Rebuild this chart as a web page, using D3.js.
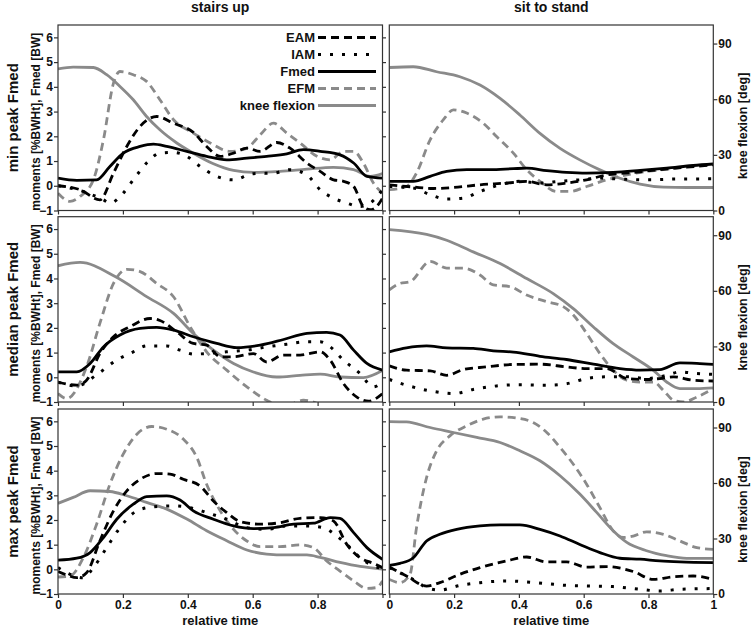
<!DOCTYPE html>
<html><head><meta charset="utf-8">
<script src="https://cdn.jsdelivr.net/npm/d3@7"></script>
<style>
body{margin:0;background:#fff}
svg{display:block}
text{font-family:"Liberation Sans",Arial,Helvetica,sans-serif;font-weight:bold;fill:#111}
</style>
</head><body>
<svg id="c" width="752" height="628"></svg>
<script>
// ---------- tick values / labels ----------
const xTicks = [0, 0.2, 0.4, 0.6, 0.8, 1];
const leftTicks = [-1, 0, 1, 2, 3, 4, 5, 6];
const rightTicks = [0, 30, 60, 90];
const columnTitles = ["stairs up", "sit to stand"];
const rowTitles = ["min peak Fmed", "median peak Fmed", "max peak Fmed"];
const leftAxisLabel = "moments [%BWHt], Fmed [BW]";
const rightAxisLabel = "knee flexion [deg]";
const xAxisLabel = "relative time";
const seriesNames = ["EAM", "IAM", "Fmed", "EFM", "knee flexion"];

// ---------- data: [relative time, value]; moments/Fmed on left axis, knee flexion in deg ----------
// stairs up, min peak Fmed
const suMinEAM = [[0,0],[0.068,-0.16],[0.129,-0.57],[0.171,0.51],[0.212,1.59],[0.253,2.4],[0.304,2.8],[0.356,2.53],[0.417,2.16],[0.458,1.59],[0.5,1.19],[0.541,1.32],[0.582,1.52],[0.623,1.39],[0.674,1.75],[0.715,1.52],[0.767,0.92],[0.808,0.58],[0.849,0.24],[0.88,0.18],[0.911,-0.03],[0.941,-0.84],[0.962,-0.97],[0.982,-0.84],[1,-0.5]];
const suMinIAM = [[0,0],[0.078,-0.23],[0.14,-0.57],[0.16,-0.7],[0.201,-0.3],[0.232,0.24],[0.273,0.92],[0.314,1.32],[0.356,1.35],[0.397,1.19],[0.438,0.78],[0.489,0.38],[0.541,0.24],[0.602,0.49],[0.664,0.51],[0.715,0.65],[0.767,0.44],[0.808,-0.16],[0.849,-0.5],[0.89,-0.7],[0.931,-0.84],[0.962,-0.7],[1,-0.16]];
const suMinFmed = [[0,0.31],[0.058,0.22],[0.119,0.24],[0.16,0.78],[0.201,1.32],[0.253,1.59],[0.294,1.68],[0.335,1.59],[0.397,1.39],[0.458,1.19],[0.52,1.05],[0.582,1.12],[0.643,1.19],[0.705,1.29],[0.756,1.46],[0.808,1.39],[0.869,1.25],[0.911,0.92],[0.952,0.38],[1,0.31]];
const suMinEFM = [[0,-0.3],[0.037,-0.63],[0.068,-0.43],[0.109,0.24],[0.14,1.86],[0.171,4.15],[0.191,4.62],[0.232,4.49],[0.273,4.22],[0.314,3.48],[0.356,2.67],[0.417,2.13],[0.469,1.73],[0.53,1.39],[0.582,1.52],[0.623,2.06],[0.664,2.53],[0.705,2.13],[0.746,1.73],[0.798,1.19],[0.839,1.05],[0.88,1.39],[0.911,1.39],[0.941,0.92],[0.972,0.11],[1,-0.3]];
const suMinKnee = [[0,76.3],[0.047,77.3],[0.109,77.1],[0.15,73.2],[0.191,66.9],[0.232,59.7],[0.273,50.7],[0.314,43.5],[0.366,36.4],[0.417,30.9],[0.479,25.2],[0.541,21.6],[0.602,20.5],[0.684,21.1],[0.767,22.3],[0.849,23.3],[0.911,22],[0.962,18.4],[1,19.9]];
// sit to stand, min peak Fmed
const stsMinEAM = [[0,0.04],[0.074,-0.05],[0.136,-0.11],[0.198,-0.07],[0.28,0.04],[0.362,0.11],[0.424,0.18],[0.486,0.04],[0.547,0.11],[0.609,0.24],[0.671,0.44],[0.753,0.54],[0.835,0.65],[0.918,0.75],[1,0.85]];
const stsMinIAM = [[0,-0.03],[0.074,-0.09],[0.126,-0.36],[0.177,-0.54],[0.228,-0.5],[0.28,-0.23],[0.342,0.04],[0.403,0.18],[0.465,0.11],[0.527,0.18],[0.588,0.24],[0.65,0.31],[0.712,0.27],[0.794,0.24],[0.877,0.27],[1,0.28]];
const stsMinFmed = [[0,0.18],[0.074,0.18],[0.126,0.38],[0.177,0.58],[0.239,0.65],[0.311,0.65],[0.383,0.69],[0.424,0.71],[0.486,0.61],[0.547,0.54],[0.609,0.51],[0.691,0.54],[0.774,0.62],[0.856,0.71],[0.938,0.82],[1,0.88]];
const stsMinEFM = [[0,-0.16],[0.053,-0.03],[0.084,0.51],[0.126,1.86],[0.167,2.67],[0.198,3.07],[0.239,2.94],[0.29,2.53],[0.331,1.99],[0.383,1.32],[0.424,0.65],[0.465,0.18],[0.516,-0.23],[0.558,-0.23],[0.609,-0.03],[0.671,0.24],[0.733,0.44],[0.794,0.58],[0.856,0.67],[0.918,0.78],[1,0.85]];
const stsMinKnee = [[0,77.1],[0.074,77.5],[0.146,74.8],[0.218,72.1],[0.28,67.6],[0.342,60.4],[0.403,51.5],[0.465,41.6],[0.527,33.5],[0.588,27.3],[0.65,21.9],[0.712,17.4],[0.774,14.2],[0.846,12.6],[0.918,12.4],[1,12.4]];
// stairs up, median peak Fmed
const suMedEAM = [[0,-0.19],[0.058,-0.32],[0.088,-0.12],[0.129,0.96],[0.171,1.64],[0.222,2.05],[0.284,2.38],[0.314,2.3],[0.366,1.84],[0.417,1.37],[0.458,1.3],[0.5,0.83],[0.541,0.83],[0.602,0.96],[0.643,0.62],[0.695,0.9],[0.746,0.9],[0.808,1.03],[0.839,0.69],[0.88,-0.26],[0.921,-0.8],[0.957,-0.97],[1,-0.66]];
const suMedIAM = [[0,-0.2],[0.058,-0.35],[0.119,0.1],[0.181,0.7],[0.232,1.03],[0.273,1.27],[0.335,1.27],[0.376,1.1],[0.417,0.94],[0.458,0.96],[0.52,1.03],[0.582,1.1],[0.643,1.23],[0.705,1.34],[0.767,1.44],[0.808,1.44],[0.839,1.23],[0.88,0.69],[0.931,0.15],[0.972,-0.39],[1,-0.19]];
const suMedFmed = [[0,0.22],[0.058,0.22],[0.099,0.56],[0.14,1.23],[0.191,1.71],[0.253,1.98],[0.304,2.02],[0.356,1.91],[0.417,1.64],[0.489,1.37],[0.551,1.2],[0.623,1.3],[0.695,1.53],[0.767,1.78],[0.828,1.82],[0.869,1.71],[0.911,1.1],[0.952,0.56],[1,0.29]];
const suMedEFM = [[0,-0.66],[0.027,-0.86],[0.088,0.42],[0.129,2.18],[0.171,3.8],[0.212,4.37],[0.253,4.28],[0.304,3.8],[0.356,3.26],[0.407,2.05],[0.458,1.03],[0.52,0.29],[0.582,-0.39],[0.643,-0.93],[0.695,-1.2],[0.756,-0.93],[0.787,-1.0],[0.85,-1.4],[0.95,-1.4],[1,-1.2]];
const suMedKnee = [[0,73.5],[0.068,75.3],[0.176,67.7],[0.273,56.9],[0.356,47.8],[0.417,37],[0.479,28],[0.541,20.8],[0.602,16.2],[0.674,13.5],[0.746,14.4],[0.808,15],[0.869,13.5],[0.941,13.2],[1,17]];
// sit to stand, median peak Fmed
const stsMedEAM = [[0,0.46],[0.053,0.29],[0.126,0.26],[0.177,0.08],[0.228,0.31],[0.3,0.42],[0.383,0.52],[0.465,0.53],[0.547,0.42],[0.609,0.35],[0.671,0.35],[0.733,-0.05],[0.794,-0.09],[0.835,-0.05],[0.877,0.02],[0.938,-0.12],[1,-0.15]];
const stsMedIAM = [[0,-0.09],[0.053,-0.32],[0.126,-0.55],[0.198,-0.66],[0.259,-0.49],[0.331,-0.35],[0.403,-0.3],[0.486,-0.32],[0.547,-0.26],[0.609,-0.05],[0.671,0.02],[0.733,0.02],[0.794,-0.05],[0.856,0.08],[0.897,0.22],[0.949,0.15],[1,0.12]];
const stsMedFmed = [[0,1.03],[0.053,1.19],[0.115,1.27],[0.177,1.19],[0.259,1.17],[0.321,1.07],[0.383,1.02],[0.465,0.85],[0.547,0.72],[0.63,0.53],[0.712,0.35],[0.774,0.29],[0.835,0.31],[0.897,0.58],[0.949,0.56],[1,0.52]];
const stsMedEFM = [[0,3.54],[0.033,3.8],[0.064,3.87],[0.126,4.69],[0.177,4.42],[0.228,4.42],[0.28,4.14],[0.321,3.74],[0.372,3.67],[0.424,3.33],[0.486,3.06],[0.537,2.86],[0.568,2.52],[0.609,1.78],[0.65,0.96],[0.691,0.29],[0.733,-0.12],[0.774,-0.19],[0.815,-0.19],[0.846,-0.53],[0.877,-0.93],[0.907,-1.0],[0.949,-0.8],[1,-0.46]];
const stsMedKnee = [[0,93],[0.115,90.4],[0.177,87.3],[0.259,81],[0.342,74.7],[0.424,66.6],[0.506,58.5],[0.568,50.4],[0.63,40.5],[0.691,31.5],[0.753,24.3],[0.815,17.1],[0.856,10.8],[0.897,7.2],[0.949,7.2],[1,7.6]];
// stairs up, max peak Fmed
const suMaxEAM = [[0,-0.09],[0.027,-0.23],[0.058,-0.34],[0.088,-0.14],[0.129,1.15],[0.171,2.37],[0.212,3.18],[0.253,3.65],[0.304,3.88],[0.345,3.86],[0.386,3.65],[0.438,3.38],[0.479,2.77],[0.52,2.3],[0.561,1.94],[0.623,1.83],[0.684,1.89],[0.746,2.07],[0.808,2.1],[0.849,1.96],[0.89,1.01],[0.931,0.47],[0.972,0.24],[1,0.07]];
const suMaxIAM = [[0,0.07],[0.037,-0.2],[0.078,-0.34],[0.109,0.07],[0.15,0.88],[0.191,1.69],[0.243,2.37],[0.294,2.53],[0.356,2.57],[0.407,2.5],[0.458,2.3],[0.52,2.03],[0.582,1.69],[0.643,1.62],[0.705,1.76],[0.767,1.76],[0.818,1.69],[0.859,1.35],[0.89,1.01],[0.931,0.47],[0.972,0.14],[1,0.03]];
const suMaxFmed = [[0,0.37],[0.058,0.45],[0.099,0.68],[0.14,1.29],[0.181,2.03],[0.232,2.64],[0.273,2.95],[0.335,2.98],[0.376,2.81],[0.417,2.37],[0.479,2.03],[0.541,1.76],[0.602,1.65],[0.664,1.69],[0.726,1.83],[0.787,1.87],[0.839,2.1],[0.869,2.07],[0.911,1.49],[0.952,0.88],[1,0.41]];
const suMaxEFM = [[0,-0.31],[0.037,-0.27],[0.078,0.47],[0.119,1.83],[0.16,3.45],[0.201,4.67],[0.243,5.48],[0.289,5.79],[0.335,5.68],[0.386,5.28],[0.428,4.53],[0.458,3.45],[0.5,2.37],[0.541,1.62],[0.582,1.15],[0.623,0.92],[0.684,0.92],[0.746,0.99],[0.787,0.88],[0.828,0.34],[0.869,-0.07],[0.911,-0.47],[0.952,-0.77],[0.982,-0.74],[1,-0.47]];
const suMaxKnee = [[0,49],[0.047,52.2],[0.099,55.8],[0.16,55.4],[0.212,53.1],[0.273,49.5],[0.335,45.9],[0.397,40.5],[0.458,34.2],[0.52,28.8],[0.582,23.8],[0.643,21.6],[0.705,21.1],[0.767,21.1],[0.808,19.8],[0.869,17.1],[0.931,14.9],[1,13.5]];
// sit to stand, max peak Fmed
const stsMaxEAM = [[0,0.09],[0.053,-0.27],[0.115,-0.68],[0.156,-0.54],[0.218,-0.2],[0.28,0.07],[0.362,0.34],[0.424,0.5],[0.486,0.3],[0.547,0.3],[0.609,0.09],[0.671,0.11],[0.753,-0.09],[0.815,-0.41],[0.877,-0.3],[0.938,-0.27],[1,-0.41]];
const stsMaxIAM = [[0,0.07],[0.033,-0.14],[0.074,-0.41],[0.115,-0.74],[0.156,-0.84],[0.218,-0.65],[0.28,-0.54],[0.362,-0.47],[0.424,-0.51],[0.486,-0.58],[0.547,-0.65],[0.63,-0.68],[0.691,-0.7],[0.774,-0.81],[0.835,-0.88],[0.897,-0.81],[1,-0.78]];
const stsMaxFmed = [[0,0.16],[0.033,0.24],[0.074,0.47],[0.115,1.15],[0.156,1.42],[0.208,1.62],[0.28,1.76],[0.342,1.8],[0.403,1.8],[0.465,1.62],[0.527,1.35],[0.588,1.01],[0.65,0.68],[0.712,0.45],[0.774,0.41],[0.835,0.34],[0.897,0.3],[1,0.27]];
const stsMaxEFM = [[0,-0.41],[0.033,-0.54],[0.064,-0.2],[0.084,1.69],[0.115,3.72],[0.146,4.8],[0.187,5.41],[0.239,5.82],[0.29,6.09],[0.342,6.18],[0.393,6.13],[0.444,5.95],[0.486,5.55],[0.527,4.94],[0.568,4.26],[0.609,3.45],[0.65,2.5],[0.691,1.56],[0.722,1.29],[0.753,1.35],[0.794,1.52],[0.846,1.42],[0.897,1.15],[0.949,0.88],[1,0.81]];
const stsMaxKnee = [[0,93.2],[0.053,93],[0.126,90],[0.198,87.3],[0.27,84.6],[0.342,81.9],[0.403,77.4],[0.465,72],[0.527,63.9],[0.588,54],[0.64,44.1],[0.691,34.2],[0.733,27.9],[0.794,23.4],[0.856,20.7],[0.918,19.3],[1,19.3]];

// ---------- layout ----------
const colX = [[58, 382.5], [389.3, 713.3]];
const rowY = [[25, 210.5], [216.7, 402], [409, 594]];
const GRAY = "#8a8a8a";
const styles = {
  EAM:  {color:"#000", dash:"8,5", w:2.8},
  IAM:  {color:"#000", dash:"3,9", w:3},
  Fmed: {color:"#000", dash:null, w:2.8},
  EFM:  {color:GRAY,   dash:"8,5", w:2.8},
  knee: {color:GRAY,   dash:null, w:2.8}
};
const panels = [
  {r:0,c:0,EAM:suMinEAM,IAM:suMinIAM,Fmed:suMinFmed,EFM:suMinEFM,knee:suMinKnee},
  {r:0,c:1,EAM:stsMinEAM,IAM:stsMinIAM,Fmed:stsMinFmed,EFM:stsMinEFM,knee:stsMinKnee},
  {r:1,c:0,EAM:suMedEAM,IAM:suMedIAM,Fmed:suMedFmed,EFM:suMedEFM,knee:suMedKnee},
  {r:1,c:1,EAM:stsMedEAM,IAM:stsMedIAM,Fmed:stsMedFmed,EFM:stsMedEFM,knee:stsMedKnee},
  {r:2,c:0,EAM:suMaxEAM,IAM:suMaxIAM,Fmed:suMaxFmed,EFM:suMaxEFM,knee:suMaxKnee},
  {r:2,c:1,EAM:stsMaxEAM,IAM:stsMaxIAM,Fmed:stsMaxFmed,EFM:stsMaxEFM,knee:stsMaxKnee}
];

const svg = d3.select("#c");
const defs = svg.append("defs");
const fmtX = d => d === 0 ? "0" : d === 1 ? "1" : d.toFixed(1);
const fmtXLeft = d => d === 1 ? "" : fmtX(d);

panels.forEach((p, i) => {
  const [x0, x1] = colX[p.c], [y0, y1] = rowY[p.r];
  const x = d3.scaleLinear([0, 1], [x0, x1]);
  const yL = d3.scaleLinear([-1, 6.5], [y1, y0]);
  const yR = d3.scaleLinear([0, 100], [y1, y0]);
  const g = svg.append("g");

  defs.append("clipPath").attr("id", "clip" + i)
    .append("rect").attr("x", x0).attr("y", y0).attr("width", x1 - x0).attr("height", y1 - y0);
  const plot = g.append("g").attr("clip-path", `url(#clip${i})`);

  const lineL = d3.line().x(d => x(d[0])).y(d => yL(d[1])).curve(d3.curveMonotoneX);
  const lineR = d3.line().x(d => x(d[0])).y(d => yR(d[1])).curve(d3.curveMonotoneX);

  const draw = (key, gen) => {
    const s = styles[key];
    plot.append("path").attr("d", gen(p[key])).attr("fill", "none")
      .attr("stroke", s.color).attr("stroke-width", s.w)
      .attr("stroke-dasharray", s.dash).attr("stroke-linejoin", "round");
  };
  draw("knee", lineR);
  draw("EFM", lineL);
  draw("Fmed", lineL);
  draw("EAM", lineL);
  draw("IAM", lineL);

  // frame
  g.append("rect").attr("x", x0).attr("y", y0).attr("width", x1 - x0).attr("height", y1 - y0)
    .attr("fill", "none").attr("stroke", "#333").attr("stroke-width", 1.2);

  // x axis ticks
  const xa = d3.axisBottom(x).tickValues(xTicks).tickSize(4).tickPadding(2)
    .tickFormat(p.r === 2 ? (p.c === 0 ? fmtXLeft : fmtX) : "");
  const gx = g.append("g").attr("transform", `translate(0,${y1})`).call(xa);
  gx.select(".domain").remove();
  gx.selectAll("line").attr("stroke", "#333").attr("stroke-width", 1.2);
  gx.selectAll("text").attr("font-size", 12).attr("fill", "#111").attr("font-family", null);

  if (p.c === 0) {
    const ya = d3.axisLeft(yL).tickValues(leftTicks).tickSize(4).tickPadding(1).tickFormat(d3.format("d"));
    const gy = g.append("g").attr("transform", `translate(${x0},0)`).call(ya);
    gy.select(".domain").remove();
    gy.selectAll("line").attr("stroke", "#333").attr("stroke-width", 1.2);
    gy.selectAll("text").attr("font-size", 12).attr("fill", "#111").attr("font-family", null);
    const ya2 = d3.axisRight(yL).tickValues(leftTicks).tickSize(3.5).tickFormat("");
    const gy2 = g.append("g").attr("transform", `translate(${x1},0)`).call(ya2);
    gy2.select(".domain").remove();
    gy2.selectAll("line").attr("stroke", "#333").attr("stroke-width", 1.2);
  } else {
    const ya = d3.axisRight(yR).tickValues(rightTicks).tickSize(4).tickPadding(1).tickFormat(d3.format("d"));
    const gy = g.append("g").attr("transform", `translate(${x1},0)`).call(ya);
    gy.select(".domain").remove();
    gy.selectAll("line").attr("stroke", "#333").attr("stroke-width", 1.2);
    gy.selectAll("text").attr("font-size", 12).attr("fill", "#111").attr("font-family", null);
    svg.append("text").attr("transform", `translate(747,${(y0 + y1) / 2 + 8}) rotate(-90)`)
      .attr("text-anchor", "middle").attr("font-size", 12.5).text(rightAxisLabel);
  }

  if (p.c === 0) {
    svg.append("text").attr("transform", `translate(18,${(y0 + y1) / 2}) rotate(-90)`)
      .attr("text-anchor", "middle").attr("font-size", 15).text(rowTitles[p.r]);
    svg.append("text").attr("transform", `translate(40,${(y0 + y1) / 2 + 4}) rotate(-90)`)
      .attr("text-anchor", "middle").attr("font-size", 12).text(leftAxisLabel);
  }
  if (p.r === 0) {
    svg.append("text").attr("x", (x0 + x1) / 2).attr("y", 12).attr("text-anchor", "middle")
      .attr("font-size", 14).text(columnTitles[p.c]);
  }
  if (p.r === 2) {
    svg.append("text").attr("x", (x0 + x1) / 2).attr("y", 625).attr("text-anchor", "middle")
      .attr("font-size", 13).text(xAxisLabel);
  }
});

// legend (top-left panel)
const legKeys = ["EAM", "IAM", "Fmed", "EFM", "knee"];
const leg = svg.append("g");
legKeys.forEach((k, i) => {
  const yy = 37.5 + i * 17;
  const s = styles[k];
  leg.append("text").attr("x", 315).attr("y", yy + 4.5).attr("text-anchor", "end")
    .attr("font-size", 13).text(seriesNames[i]);
  leg.append("line").attr("x1", 318).attr("x2", 376).attr("y1", yy).attr("y2", yy)
    .attr("stroke", s.color).attr("stroke-width", s.w).attr("stroke-dasharray", s.dash);
});
</script>
</body></html>
